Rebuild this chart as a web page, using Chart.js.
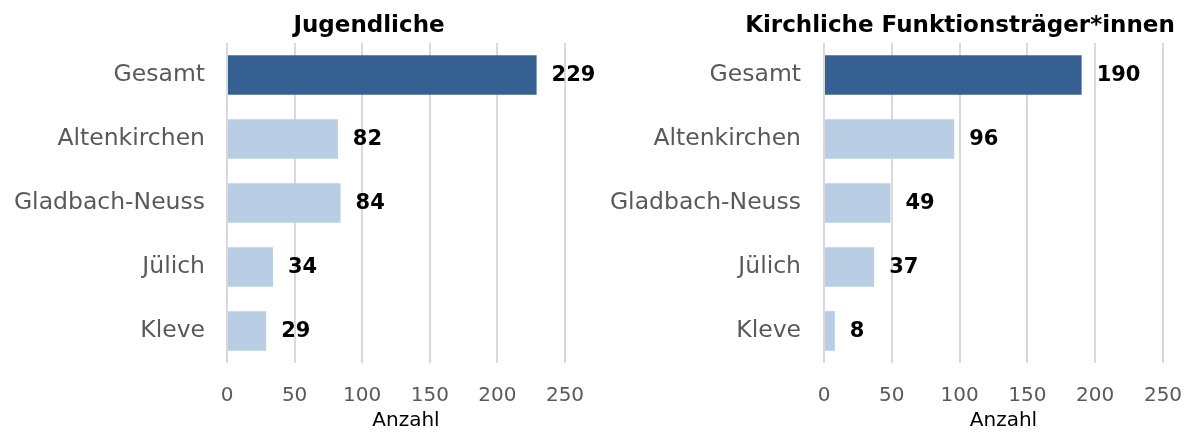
<!DOCTYPE html>
<html>
<head>
<meta charset="utf-8">
<script src="https://cdn.jsdelivr.net/npm/chart.js@4.4.1/dist/chart.umd.min.js"></script>
<style>
  html, body { margin: 0; padding: 0; background: #ffffff; }
  #wrap { position: relative; width: 1198px; height: 435px; overflow: hidden; }
  .panel { position: absolute; top: 0; height: 435px; }
</style>
</head>
<body>
<div id="wrap">
  <div class="panel" style="left:0px;width:600px;"><canvas id="c1" width="600" height="435"></canvas></div>
  <div class="panel" style="left:600px;width:598px;"><canvas id="c2" width="598" height="435"></canvas></div>
</div>
<script>
// ---- data ----
const categories = ["Gesamt", "Altenkirchen", "Gladbach-Neuss", "Jülich", "Kleve"];
const jugendlicheValues = [229, 82, 84, 34, 29];
const funktionstraegerValues = [190, 96, 49, 37, 8];
const titleLeft = "Jugendliche";
const titleRight = "Kirchliche Funktionsträger*innen";
const axisTitle = "Anzahl";
const axisMin = 0;
const axisMax = 250;
const axisStep = 50;

// ---- styles ----
const FONT = "'DejaVu Sans', Verdana, sans-serif";
const DARK = "#376092";
const LIGHT = "#B9CDE5";
const GRID = "#D9D9D9";
const LABEL_GRAY = "#595959";

const valueLabels = {
  id: "valueLabels",
  afterDatasetsDraw(chart) {
    const ctx = chart.ctx;
    const meta = chart.getDatasetMeta(0);
    const data = chart.data.datasets[0].data;
    ctx.save();
    ctx.font = "bold 21px " + FONT;
    ctx.fillStyle = "#000000";
    ctx.textAlign = "left";
    ctx.textBaseline = "middle";
    meta.data.forEach((bar, i) => {
      ctx.fillText(String(data[i]), bar.x + 15, bar.y + 1);
    });
    ctx.restore();
  }
};

const panelTexts = {
  id: "panelTexts",
  afterDraw(chart, args, opts) {
    const ctx = chart.ctx;
    const area = chart.chartArea;
    ctx.save();
    ctx.textAlign = "center";
    ctx.textBaseline = "middle";
    ctx.fillStyle = "#000000";
    ctx.font = "bold 23px " + FONT;
    ctx.fillText(opts.title, opts.titleX, opts.titleY);
    ctx.font = "20px " + FONT;
    ctx.fillText(opts.axisTitle, (area.left + area.right) / 2 + opts.axisTitleShift, opts.axisTitleY);
    ctx.restore();
  }
};

function makeChart(id, values, title, yWidth, padRight, titleX, labelPad) {
  return new Chart(document.getElementById(id), {
    type: "bar",
    data: {
      labels: categories,
      datasets: [{
        data: values,
        backgroundColor: values.map((v, i) => i === 0 ? DARK : LIGHT),
        borderWidth: 0,
        barPercentage: 0.62,
        categoryPercentage: 1.0
      }]
    },
    options: {
      indexAxis: "y",
      responsive: false,
      devicePixelRatio: 1,
      animation: false,
      layout: { padding: { top: 43, right: padRight, bottom: 0, left: 0 } },
      plugins: {
        legend: { display: false },
        tooltip: { enabled: false },
        title: { display: false },
        panelTexts: {
          title: title, titleX: titleX, titleY: 26,
          axisTitle: axisTitle, axisTitleShift: 10, axisTitleY: 421
        }
      },
      scales: {
        x: {
          type: "linear",
          min: axisMin,
          max: axisMax,
          ticks: {
            stepSize: axisStep,
            color: LABEL_GRAY,
            font: { family: FONT, size: 20 },
            padding: 21,
            maxRotation: 0
          },
          grid: { color: GRID, lineWidth: 2, drawTicks: false },
          border: { display: false },
          title: { display: false },
          afterFit(scale) { scale.height = 72; scale.paddingRight = 0; scale.paddingLeft = 0; }
        },
        y: {
          ticks: {
            color: LABEL_GRAY,
            font: { family: FONT, size: 23.5 },
            padding: labelPad
          },
          grid: { display: false, drawTicks: false },
          border: { display: false },
          afterFit(scale) { scale.width = yWidth; scale.paddingTop = 0; scale.paddingBottom = 0; }
        }
      }
    },
    plugins: [valueLabels, panelTexts]
  });
}

makeChart("c1", jugendlicheValues, titleLeft, 227, 35, 369, 22);
makeChart("c2", funktionstraegerValues, titleRight, 224, 35, 360, 23);
</script>
</body>
</html>
